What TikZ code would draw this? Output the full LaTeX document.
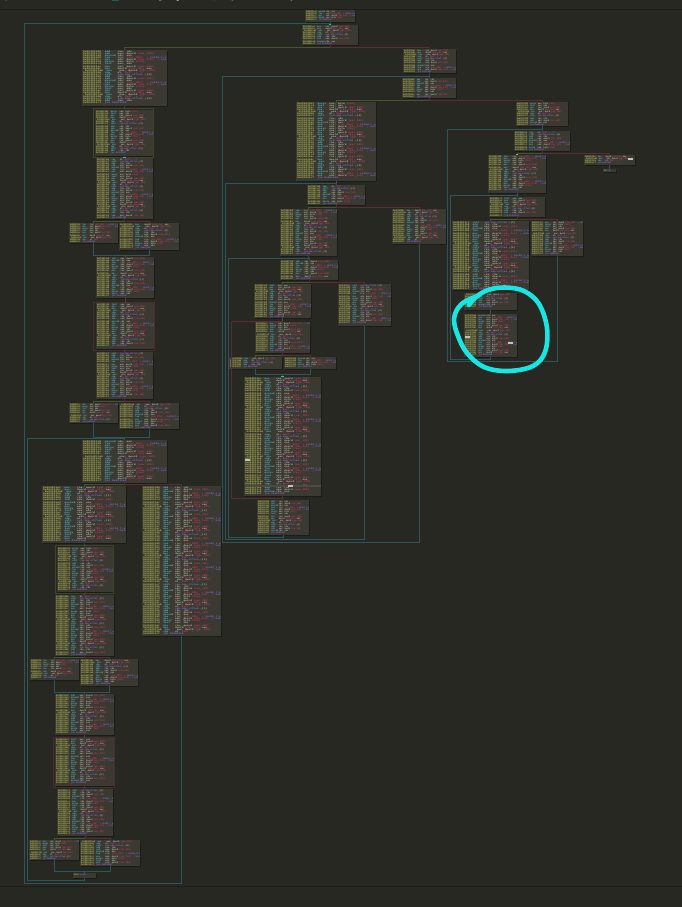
\documentclass[tikz,border=0pt]{standalone}
\usepackage{fontspec}
\usepackage{graphicx}
\setmonofont{DejaVu Sans Mono}
\usetikzlibrary{calc}

% editor palette
\definecolor{bgc}{HTML}{272822}
\definecolor{blkfill}{HTML}{3B3A32}
\definecolor{blkshadow}{HTML}{1B1C17}
\definecolor{sepc}{HTML}{1D1E19}
\definecolor{caddr}{HTML}{ADB450}
\definecolor{cmn}{HTML}{52AEBE}
\definecolor{ctx}{HTML}{ABAB9C}
\definecolor{creg}{HTML}{C0345F}
\definecolor{ccom}{HTML}{7E64CC}
\definecolor{cjmp}{HTML}{8064D4}
\definecolor{loopc}{HTML}{2D565C}
\definecolor{edgeu}{HTML}{34555A}
\definecolor{edget}{HTML}{45552F}
\definecolor{edgef}{HTML}{5E2B35}
\definecolor{hlt}{HTML}{3E4529}
\definecolor{hlf}{HTML}{4C2A30}
\definecolor{penc}{HTML}{18E6E2}
\definecolor{selc}{HTML}{C4C4B4}
\definecolor{selbar}{HTML}{4C4B42}

% colour helpers for one disassembly line
\newcommand\cAd[1]{\textcolor{caddr}{#1}}
\newcommand\cMn[1]{\textcolor{cmn}{#1}}
\newcommand\cTx[1]{\textcolor{ctx}{#1}}
\newcommand\cRg[1]{\textcolor{creg}{#1}}
\newcommand\cCm[1]{\textcolor{ccom}{#1}}
\newcommand\cJp[1]{\textcolor{cjmp}{#1}}

\newcommand\asmline[1]{\ifcase#1
\cAd{0x004011a6}~~\cMn{mov}~~~~\cTx{eax, dword} \cRg{[var\_14h]}\or
\cAd{0x004011a9}~~\cMn{movsxd}~\cTx{rdx, eax}\or
\cAd{0x004011ac}~~\cMn{mov}~~~~\cTx{rax, qword} \cRg{[var\_28h]}\or
\cAd{0x004011b0}~~\cMn{add}~~~~\cTx{rax, rdx}\or
\cAd{0x004011b3}~~\cMn{movzx}~~\cTx{eax, byte} \cRg{[rax]}\or
\cAd{0x004011b6}~~\cMn{cmp}~~~~\cTx{al,} \cRg{0x2f}~~\cCm{; '/'}\or
\cAd{0x004011b8}~~\cMn{lea}~~~~\cTx{rcx,} \cRg{[var\_30h]}~~\cCm{; int64\_t arg2}\or
\cAd{0x004011bc}~~\cMn{mov}~~~~\cTx{dword} \cRg{[var\_ch]}\cTx{, eax}\or
\cAd{0x004011c0}~~\cMn{sub}~~~~\cTx{eax, dword} \cRg{[var\_10h]}\or
\cAd{0x004011c4}~~\cMn{test}~~~\cTx{eax, eax}\or
\cAd{0x004011c7}~~\cMn{call}~~~\cCm{sym.imp.strlen}~\cTx{;[1]}\or
\cAd{0x004011cc}~~\cMn{mov}~~~~\cTx{edx, dword} \cRg{[var\_1ch]}~~\cCm{; size\_t n}%
\fi}
\newcommand\asmjump{\cAd{0x004011cf}~~\cJp{jne 0x4011e8}}

\newcount\lnI \newcount\lnK \newcount\lnT \newcount\lnN
% #1 number of lines, #2 offset into the instruction cycle
\newcommand\asmtext[2]{\vtop{\baselineskip=2.05pt\lineskiplimit=-\maxdimen\lineskip=0pt
  \lnI=0 \lnN=#1 \advance\lnN -1
  \loop\ifnum\lnI<\lnN
    \lnK=\lnI \multiply\lnK 5 \advance\lnK #2
    \lnT=\lnK \divide\lnT 12 \multiply\lnT 12 \advance\lnK -\lnT
    \hbox{\asmline{\lnK}}%
    \advance\lnI 1
  \repeat
  \hbox{\asmjump}}}

% basic block: name, x1, y1, x2, y2, offset
\newcommand\blk[6]{%
  \fill[blkshadow] (#2+0.8,#3+0.8) rectangle (#4+0.8,#5+0.8);
  \node[blkbox, minimum width=#4-#2, minimum height=#5-#3, anchor=north west] (#1) at (#2,#3) {};
  \begin{scope}
    \clip (#2,#3) rectangle (#4-0.4,#5);
    \pgfmathtruncatemacro\nlines{(#5-#3-1.2)/2.05}
    \pgfmathsetmacro\txs{(#4-#2)/62}
    \node[asmtxt, anchor=north west] (#1-txt) at (#2+1,#3+1) {\scalebox{\txs}[1]{\asmtext{\nlines}{#6}}};
  \end{scope}}

\begin{document}
\begin{tikzpicture}[x=1pt,y=-1pt,
  blkbox/.style={fill=blkfill, inner sep=0pt, outer sep=0pt},
  asmtxt/.style={inner sep=0pt, outer sep=0pt, font=\ttfamily\bfseries\fontsize{2.2}{2.05}\selectfont},
  hdr/.style={inner sep=0pt, anchor=base west, font=\ttfamily\fontsize{8}{9}\selectfont},
  loopedge/.style={draw=loopc, line width=0.75pt},
  edgeU/.style={draw=edgeu, line width=0.6pt},
  edgeT/.style={draw=edget, line width=0.6pt},
  edgeF/.style={draw=edgef, line width=0.6pt},
  hlT/.style={draw=hlt, line width=0.7pt},
  hlF/.style={draw=hlf, line width=0.7pt},
  pen/.style={draw=penc, line width=4.6pt, line cap=round, line join=round}]

\useasboundingbox (0,0) rectangle (682,907);
\fill[bgc] (0,0) rectangle (682,907);
\draw[sepc, line width=1pt] (0,9.5) -- (682,9.5);
\draw[sepc, line width=1pt] (0,886.5) -- (682,886.5);

% last line of the console above the graph, cut by the panel edge
\begin{scope}
  \clip (0,0) rectangle (682,3.2);
  \fill[loopc] (112,0) rectangle (119,1.2);
  \node[hdr, text=ctx!80!white] (h1) at (3,-0.4) {\{};
  \node[hdr, text=caddr] (h2) at (41,-0.4) {,};
  \node[hdr, text=orange!80!caddr] (h3) at (158,-0.4) {g};
  \node[hdr, text=white!90!ctx] (h4) at (176,-0.4) {j};
  \node[hdr, text=white!90!ctx] (h5) at (211,-0.4) {[};
  \node[hdr, text=white!90!ctx] (h6) at (229,-0.4) {\{};
  \node[hdr, text=orange!80!caddr] (h7) at (290,-0.4) {y};
\end{scope}

% ---- entry blocks
\blk{T1}{305}{10}{355}{22}{1}
\blk{T2}{302}{25}{358}{45}{2}

% ---- left column
\blk{A}{82}{50}{167}{106}{3}
\blk{B}{95}{110}{153}{156}{4}
\blk{C}{96}{158}{153}{219}{5}
\blk{D}{69}{223}{118}{243}{6}
\blk{E}{119}{223}{179}{250}{7}
\blk{F}{96}{257}{154}{298}{8}
\blk{G}{96}{303}{154}{349}{9}
\blk{H}{96}{352}{153}{399}{10}
\blk{I}{69}{403}{118}{423}{11}
\blk{J}{119}{403}{179}{429}{0}
\blk{K}{82}{440}{167}{483}{1}
\blk{L}{42}{486}{126}{543}{2}
\blk{M}{142}{486}{221}{636}{3}
\blk{N}{57}{547}{113}{592}{4}
\blk{O}{55}{595}{114}{656}{5}
\blk{P}{30}{659}{79}{680}{6}
\blk{Q}{80}{659}{138}{686}{7}
\blk{R}{55}{694}{114}{735}{8}
\blk{S}{55}{738}{114}{786}{9}
\blk{T}{57}{789}{113}{836}{10}
\blk{U}{29}{840}{79}{860}{11}
\blk{V}{80}{840}{140}{866}{0}
\blk{W}{73}{873}{96}{878}{1}

% ---- middle column
\blk{MA}{403}{49}{456}{73}{2}
\blk{MB}{402}{78}{456}{98}{3}
\blk{X}{296}{102}{376}{181}{4}
\blk{Y}{307}{185}{365}{205}{5}
\blk{Z}{280}{209}{337}{256}{6}
\blk{AA}{392}{209}{446}{244}{7}
\blk{AB}{280}{260}{338}{280}{8}
\blk{AC}{254}{284}{311}{318}{9}
\blk{AD}{338}{284}{391}{326}{10}
\blk{AE}{255}{322}{310}{353}{11}
\blk{AF}{229}{357}{282}{369}{0}
\blk{AG}{284}{357}{336}{369}{1}
\blk{AH}{244}{377}{321}{496}{2}
\blk{AI}{257}{500}{309}{535}{3}

% ---- right column
\blk{RA}{516}{102}{568}{126}{4}
\blk{RB}{514}{131}{570}{151}{5}
\blk{RC}{488}{155}{546}{193}{6}
\blk{RD}{584}{155}{635}{165}{7}
\blk{RE}{603}{169}{616}{172}{8}
\blk{RF}{489}{197}{545}{217}{9}
\blk{RG}{452}{221}{529}{290}{10}
\blk{RH}{531}{221}{583}{256}{11}
\blk{RI}{464}{293}{517}{310}{0}
\blk{RJ}{464}{314}{517}{357}{1}

% selected lines
\fill[selbar] (244.5,485) rectangle (320.5,487.2);
\fill[selc] (288.3,485.1) rectangle (293.3,487);
\fill[selc] (245,459.3) rectangle (249.5,461.3);
\fill[selc] (464.5,335.8) rectangle (470,338);
\fill[selc] (508,342) rectangle (513,344);
\fill[selc] (628,157.6) rectangle (633,159.8);

% highlighted blocks
\draw[hlT] ($(B.north west)+(-1.3,-1.2)$) rectangle ($(B.south east)+(0.8,1)$);
\draw[hlF] ($(G.north west)+(-2.5,-1)$) rectangle ($(G.south east)+(0.5,1)$);
\draw[hlT] ($(N.north west)+(-1.5,-1.5)$) rectangle ($(N.south east)+(0.5,1)$);
\draw[hlF] ($(S.north west)+(-1.5,-1)$) rectangle ($(S.south east)+(0.5,1)$);

% ---- flow edges, left column
\draw[edgeU] (T1.south) -- (T2.north);
\draw[edgeT] (T2.south) -- ++(0,2) -| (A.north);
\draw[edgeF] (T2.south) -- ++(0,2) -| (MA.north);
\draw[edgeU] (A.south) -- (B.north);
\draw[edgeU] (B.south) -- (C.north);
\draw[edgeT] (C.south) -- ++(0,2) -| (D.north);
\draw[edgeF] (C.south) -- ++(0,2) -| (E.north);
\draw[edgeU] (D.south) -- ++(0,12) -| (F.north);
\draw[edgeU] (E.south) -- ++(0,5) -| (F.north);
\draw[edgeU] (F.south) -- (G.north);
\draw[edgeU] (G.south) -- (H.north);
\draw[edgeT] (H.south) -- ++(0,2) -| (I.north);
\draw[edgeF] (H.south) -- ++(0,2) -| (J.north);
\draw[loopedge] (I.south) -- ++(0,14) -| (K.north);
\draw[loopedge] (J.south) -- ++(0,8) -| (K.north);
\draw[edgeT] (K.south) -- ++(0,1.5) -| (L.north);
\draw[edgeF] (K.south) -- ++(0,1.5) -| (M.north);
\draw[edgeU] (L.south) -- (N.north);
\draw[edgeU] (N.south) -- (O.north);
\draw[edgeT] (O.south) -- ++(0,1.5) -| (P.north);
\draw[edgeF] (O.south) -- ++(0,1.5) -| (Q.north);
\draw[loopedge] (P.south) -- ++(0,12) -| (R.north);
\draw[loopedge] (Q.south) -- ++(0,6) -| (R.north);
\draw[edgeU] (R.south) -- (S.north);
\draw[edgeU] (S.south) -- (T.north);
\draw[edgeT] (T.south) -- ++(0,2) -| (U.north);
\draw[edgeF] (T.south) -- ++(0,2) -| (V.north);
\draw[loopedge] (U.south) -- ++(0,11) -| (W.north);
\draw[loopedge] (V.south) -- ++(0,5) -| (W.north);

% ---- flow edges, middle column
\draw[edgeU] (MA.south) -- (MB.north);
\draw[edgeT] (MB.south) -- ++(0,2) -| (X.north);
\draw[edgeF] (MB.south) -- ++(0,2.5) -| (RA.north);
\draw[edgeU] (X.south) -- (Y.north);
\draw[edgeT] (Y.south) -- ++(0,2) -| (Z.north);
\draw[edgeF] (Y.south) -- ++(0,2) -| (AA.north);
\draw[edgeU] (Z.south) -- (AB.north);
\draw[edgeT] (AB.south) -- ++(0,2) -| (AC.north);
\draw[edgeF] (AB.south) -- ++(0,2) -| (AD.north);
\draw[edgeU] (AC.south) -- (AE.north);
\draw[edgeT] (AE.south) -- ++(0,2) -| (AF.north);
\draw[edgeF] (AE.south) -- ++(0,2) -| (AG.north);
\draw[loopedge] (AF.south) -- ++(0,5) -| (AH.north);
\draw[loopedge] (AG.south) -- ++(0,5) -| (AH.north);
\draw[edgeU] (AH.south) -- (AI.north);

% ---- flow edges, right column
\draw[edgeU] (RA.south) -- (RB.north);
\draw[edgeT] (RB.south) -- ++(0,2) -| (RC.north);
\draw[edgeF] (RB.south) -- ++(0,2) -| (RD.north);
\draw[edgeU] (RC.south) -- (RF.north);
\draw[edgeU] (RD.south) -- (RE.north);
\draw[edgeT] (RF.south) -- ++(0,2) -| (RG.north);
\draw[edgeF] (RF.south) -- ++(0,2) -| (RH.north);
\draw[edgeU] (RG.south) -- (RI.north);
\draw[edgeU] (RI.south) -- (RJ.north);

% ---- loop back-edges
\draw[loopedge] (M.south) |- (24,883) |- ($(T2.north)+(0,-2)$) -- (T2.north);
\draw[loopedge] (W.south) -- ++(0,2) -| ($(K.north)+(-97.5,-2)$) -- ($(K.north)+(0,-2)$) -- (K.north);
\draw[loopedge] (AA.south) |- (222,542) |- ($(MB.north)+(0,-2)$) -- (MB.north);
\draw[loopedge] (AD.south) |- (225,539.5) |- ($(Y.north)+(0,-1.5)$) -- (Y.north);
\draw[loopedge] (AI.south) |- (228,537) |- ($(AB.north)+(0,-1.5)$) -- (AB.north);
\draw[edgeF] (AH.south) -- ++(0,2) -| ($(AE.north)+(-51.5,-1)$) -- ($(AE.north)+(0,-1)$) -- (AE.north);
\draw[loopedge] (RH.south) |- (447,361) |- ($(RB.north)+(0,-2)$) -- (RB.north);
\draw[loopedge] (RJ.south) |- (450,359) |- ($(RF.north)+(0,-2)$) -- (RF.north);

% entry markers
\fill[penc!80!loopc] ($(T2.north)+(-1.2,-1)$) rectangle ($(T2.north)+(1.2,0)$);
\fill[penc!80!loopc] ($(C.north)+(-1.2,-1)$) rectangle ($(C.north)+(1.2,0)$);
\fill[penc!80!loopc] ($(AH.north)+(-1.2,-1)$) rectangle ($(AH.north)+(1.2,0)$);
\fill[caddr] ($(RC.north)+(-0.8,-1.2)$) rectangle ($(RC.north)+(0.8,0)$);

% hand-drawn ring around the inner loop
\draw[pen] plot[smooth, tension=0.6] coordinates {(469,305) (476,297) (488,290) (505,287.5) (524,291) (539,304) (547,328) (545,352) (533,366) (508,371) (484,367) (467,353) (458,336) (454,320) (458,308) (466,301) (478,296)};

\end{tikzpicture}
\end{document}
